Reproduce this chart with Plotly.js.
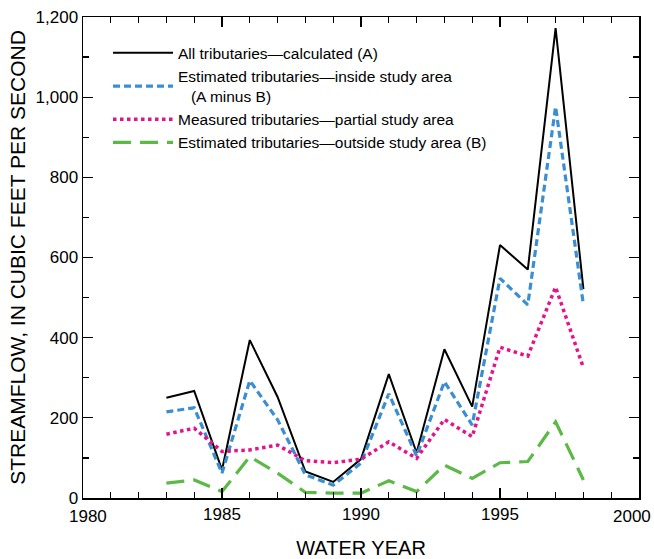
<!DOCTYPE html>
<html><head><meta charset="utf-8">
<script src="https://cdn.plot.ly/plotly-3.0.1.min.js"></script>
<style>html,body{margin:0;padding:0;background:#fff}#chart{width:654px;height:559px}</style>
</head><body><div id="chart"></div>
<script>
const years = [1983,1984,1985,1986,1987,1988,1989,1990,1991,1992,1993,1994,1995,1996,1997,1998];
const allTrib = [250,267,70,394,252,66,40,97,309,113,371,228,631,570,1172,521];
const insideArea = [215,225,62,293,195,58,32,87,260,105,290,182,548,482,976,482];
const partialArea = [159,174,116,120,132,93,88,97,140,99,196,153,376,354,526,325];
const outsideArea = [37,45,16,103,62,14,12,12,43,16,82,49,88,91,190,45];
const xTickVals = [1980,1985,1990,1995,2000];
const xTickText = ['1980','1985','1990','1995','2000'];
const names = ["All tributaries\u2014calculated (A)",
  "Estimated tributaries\u2014inside study area<br>   (A minus B)",
  "Measured tributaries\u2014partial study area",
  "Estimated tributaries\u2014outside study area (B)"];

const traces = [
  {x: years, y: allTrib, name: names[0], mode: 'lines', line: {color: '#000000', width: 2}},
  {x: years, y: insideArea, name: names[1], mode: 'lines', line: {color: '#3a8ed2', width: 3.2, dash: '7px,4px'}},
  {x: years, y: partialArea, name: names[2], mode: 'lines', line: {color: '#e6128a', width: 3.5, dash: '3.5px,3.5px'}},
  {x: years, y: outsideArea, name: names[3], mode: 'lines', line: {color: '#5cb946', width: 3.2, dash: '18px,9px'}}
];

const fontFam = 'Liberation Sans, Arial, sans-serif';
const axisCommon = {
  showgrid: false, zeroline: false, showline: true, linecolor: '#000', linewidth: 1.5,
  mirror: 'ticks', ticks: 'inside', ticklen: 10, tickwidth: 1.3, tickcolor: '#000',
  tickfont: {family: fontFam, size: 17, color: '#000'}
};

// inner labels drawn by the axis, end labels nudged inward as in the original
const axisText = xTickText.map((t, i) => (i === 0 || i === xTickText.length - 1) ? '' : t);
const endShift = [5, -7];
const annotations = [0, xTickText.length - 1].map((i, k) => ({
  x: xTickVals[i], xref: 'x', y: 0, yref: 'paper', yanchor: 'top', xanchor: 'center',
  yshift: -7, xshift: endShift[k], text: xTickText[i], showarrow: false,
  font: {family: fontFam, size: 17, color: '#000'}
}));

const layout = {
  width: 654, height: 559,
  margin: {l: 83, r: 15, t: 17, b: 61},
  paper_bgcolor: '#fff', plot_bgcolor: '#fff',
  font: {family: fontFam, color: '#000'},
  xaxis: Object.assign({}, axisCommon, {
    range: [1980, 2000], tickmode: 'array', tickvals: xTickVals, ticktext: axisText,
    minor: {ticks: 'inside', dtick: 1, tick0: 1980, ticklen: 6, tickcolor: '#000', tickwidth: 1.3},
    title: {text: 'WATER YEAR', font: {size: 20}, standoff: 18}
  }),
  yaxis: Object.assign({}, axisCommon, {
    range: [0, 1200], dtick: 200, tickformat: ',d',
    minor: {ticks: 'inside', dtick: 100, ticklen: 6, tickcolor: '#000', tickwidth: 1.3},
    title: {text: 'STREAMFLOW, IN CUBIC FEET PER SECOND', font: {size: 21}, standoff: 4}
  }),
  annotations: annotations,
  separators: '.,',
  showlegend: true,
  legend: {
    x: 0.045, y: 0.96, xanchor: 'left', yanchor: 'top',
    bgcolor: 'rgba(0,0,0,0)', borderwidth: 0,
    font: {size: 15.5, color: '#000'}, itemwidth: 60, tracegroupgap: 0
  }
};

Plotly.newPlot('chart', traces, layout, {displayModeBar: false, staticPlot: true});
</script>
</body></html>
